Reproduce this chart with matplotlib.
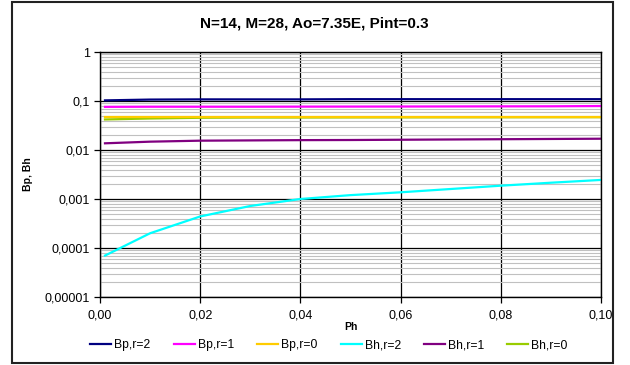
import matplotlib.pyplot as plt
from matplotlib.patches import Rectangle
from matplotlib.ticker import FixedLocator, FuncFormatter, LogLocator, NullFormatter

plt.rcParams['font.family'] = ['Liberation Sans', 'DejaVu Sans']

ph = [0.001, 0.01, 0.02, 0.03, 0.04, 0.05, 0.06, 0.07, 0.08, 0.09, 0.10]
bp_r2 = [0.103, 0.107, 0.108, 0.108, 0.108, 0.109, 0.109, 0.109, 0.109, 0.109, 0.109]
bp_r1 = [0.076, 0.0765, 0.0765, 0.0765, 0.0768, 0.077, 0.0772, 0.0775, 0.0778, 0.078, 0.079]
bp_r0 = [0.047, 0.047, 0.047, 0.047, 0.047, 0.047, 0.047, 0.047, 0.047, 0.047, 0.047]
bh_r2 = [7e-5, 2.0e-4, 4.4e-4, 7.2e-4, 1.0e-3, 1.2e-3, 1.37e-3, 1.6e-3, 1.87e-3, 2.15e-3, 2.45e-3]
bh_r1 = [0.0137, 0.0148, 0.0155, 0.0157, 0.0159, 0.016, 0.0162, 0.0164, 0.0166, 0.0168, 0.017]
bh_r0 = [0.042, 0.044, 0.0455, 0.046, 0.046, 0.0462, 0.0463, 0.0464, 0.0465, 0.0466, 0.0467]

series = [
    ("Bp,r=2", bp_r2, "#000080"),
    ("Bp,r=1", bp_r1, "#ff00ff"),
    ("Bh,r=0", bh_r0, "#99cc00"),
    ("Bp,r=0", bp_r0, "#ffcc00"),
    ("Bh,r=2", bh_r2, "#00ffff"),
    ("Bh,r=1", bh_r1, "#800080"),
]
legend_order = ["Bp,r=2", "Bp,r=1", "Bp,r=0", "Bh,r=2", "Bh,r=1", "Bh,r=0"]
yticks = [1e-5, 1e-4, 1e-3, 1e-2, 1e-1, 1]
ylabels = ["0,00001", "0,0001", "0,001", "0,01", "0,1", "1"]

fig = plt.figure(figsize=(6.3, 3.65), dpi=100)
ax = fig.add_axes([0.1587, 0.1863, 0.7953, 0.6712])

# outer chart border
fig.patches.append(Rectangle((12 / 630, 2 / 365), 601 / 630, 361 / 365,
                             transform=fig.transFigure, fill=False,
                             edgecolor="#222222", linewidth=1.5))

lines = {}
for name, vals, col in series:
    ln, = ax.plot(ph, vals, color=col, linewidth=1.6, label=name)
    lines[name] = ln

ax.set_yscale("log")
ax.set_ylim(1e-5, 1)
ax.set_xlim(0, 0.10)
ax.yaxis.set_major_locator(FixedLocator(yticks))
ax.yaxis.set_major_formatter(FuncFormatter(lambda v, p: ylabels[yticks.index(v)] if v in yticks else ""))
ax.yaxis.set_minor_locator(LogLocator(base=10, subs=range(2, 10)))
ax.yaxis.set_minor_formatter(NullFormatter())
ax.set_xticks([0, 0.02, 0.04, 0.06, 0.08, 0.10])
ax.xaxis.set_major_formatter(FuncFormatter(lambda v, p: f"{v:.2f}".replace(".", ",")))

ax.grid(which="minor", axis="y", color="#c0c0c0", linewidth=0.8)
ax.grid(which="major", axis="both", color="black", linewidth=0.9)
ax.set_axisbelow(True)
ax.tick_params(which="minor", length=0)
ax.tick_params(which="major", length=4, width=0.9, labelsize=9, direction="out")
ax.tick_params(axis="x", pad=5)
for s in ax.spines.values():
    s.set_linewidth(1.0)

fig.text(314 / 630, 1 - 23 / 365, "N=14, M=28, Ao=7.35E, Pint=0.3",
         fontsize=11, fontweight="bold", ha="center", va="center")
ax.set_xlabel("Ph", fontsize=7.5, fontweight="bold", labelpad=0)
ax.set_ylabel("Bp, Bh", fontsize=7.5, fontweight="bold", labelpad=8)

fig.legend([lines[n] for n in legend_order], legend_order, loc="center",
           bbox_to_anchor=(329 / 630, 1 - 345 / 365), ncol=6, frameon=False,
           fontsize=8.75, handlelength=1.73, columnspacing=1.9, handletextpad=0.25)

fig.savefig("out.png", dpi=100)
